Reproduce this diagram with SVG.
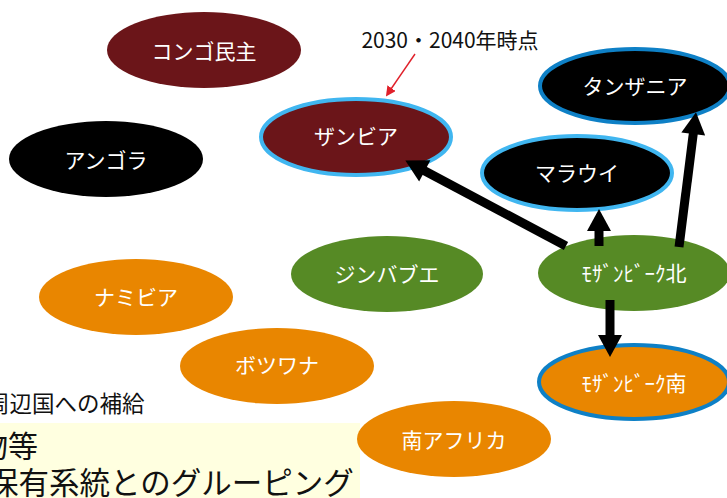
<svg xmlns="http://www.w3.org/2000/svg" width="727" height="498" viewBox="0 0 727 498">
<style>
.lbl{font-family:"Noto Sans CJK JP","Noto Sans",sans-serif;font-size:21px;fill:#fff;text-anchor:middle;dominant-baseline:central}
.red{fill:#6B1519}.blk{fill:#000}.grn{fill:#568A25}.org{fill:#E98600}
.lb{stroke:#40B6F0;stroke-width:4}.db{stroke:#0E80C6;stroke-width:4}
.txt{font-family:"Noto Sans CJK JP","Noto Sans",sans-serif;fill:#111}
.conn{stroke:#000;stroke-width:9;fill:none}
</style>
<defs>
<marker id="ah" markerUnits="userSpaceOnUse" markerWidth="24" markerHeight="24" viewBox="0 0 22 24" refX="2" refY="12" orient="auto">
<path d="M0,0 L22,12 L0,24 z" fill="#000"/>
</marker>
<marker id="rh" markerUnits="userSpaceOnUse" markerWidth="10" markerHeight="10" viewBox="0 0 10 10" refX="1" refY="5" orient="auto">
<path d="M0,0 L10,5 L0,10 z" fill="#E0202A"/>
</marker>
</defs>
<rect width="727" height="498" fill="#fff"/>
<rect x="0" y="423" width="360" height="75" fill="#FFFFE0"/>
<text class="txt" x="-13" y="412" font-size="22.5">周辺国への補給</text>
<text class="txt" x="-22" y="457" font-size="30">物等</text>
<text class="txt" x="-12" y="494" font-size="30.5">保有系統とのグルーピング</text>
<g id="congo"><ellipse class="red" cx="204" cy="50" rx="97" ry="38"/><text class="lbl" x="204" y="50">コンゴ民主</text></g>
<g id="angola"><ellipse class="blk" cx="106" cy="159" rx="97" ry="38"/><text class="lbl" x="106" y="159">アンゴラ</text></g>
<g id="zambia"><ellipse class="red lb" cx="356" cy="137" rx="95" ry="38"/><text class="lbl" x="356" y="135">ザンビア</text></g>
<g id="tanzania"><ellipse class="blk db" cx="635" cy="86" rx="95" ry="37"/><text class="lbl" x="635" y="85">タンザニア</text></g>
<g id="malawi"><ellipse class="blk lb" cx="577" cy="173" rx="95" ry="37"/><text class="lbl" x="577" y="172">マラウイ</text></g>
<g id="zimbabwe"><ellipse class="grn" cx="387" cy="274" rx="96" ry="38"/><text class="lbl" x="387" y="273">ジンバブエ</text></g>
<g id="moz-n"><ellipse class="grn" cx="634" cy="273" rx="96" ry="38"/><text class="lbl" x="634" y="272">ﾓｻﾞﾝﾋﾞｰｸ北</text></g>
<g id="moz-s"><ellipse class="org db" cx="634" cy="382" rx="95" ry="37"/><text class="lbl" x="634" y="382">ﾓｻﾞﾝﾋﾞｰｸ南</text></g>
<g id="namibia"><ellipse class="org" cx="136" cy="297" rx="97" ry="38"/><text class="lbl" x="136" y="296">ナミビア</text></g>
<g id="botswana"><ellipse class="org" cx="277" cy="366" rx="97" ry="38"/><text class="lbl" x="277" y="364">ボツワナ</text></g>
<g id="south-africa"><ellipse class="org" cx="454" cy="439" rx="97" ry="38"/><text class="lbl" x="454" y="439">南アフリカ</text></g>
<text class="txt" x="450" y="48" font-size="21" text-anchor="middle" font-family="'Liberation Sans','Noto Sans CJK JP',sans-serif">2030・2040年時点</text>
<g id="connectors">
<line class="conn" x1="566" y1="246" x2="423" y2="170" marker-end="url(#ah)"/>
<line class="conn" x1="599" y1="246" x2="599" y2="229" marker-end="url(#ah)"/>
<line class="conn" x1="679" y1="247" x2="693.5" y2="132" marker-end="url(#ah)"/>
<line class="conn" x1="610" y1="300" x2="610" y2="337" marker-end="url(#ah)"/>
<line x1="415" y1="54" x2="391" y2="89" stroke="#E0202A" stroke-width="1.4" marker-end="url(#rh)"/>
</g>
</svg>
